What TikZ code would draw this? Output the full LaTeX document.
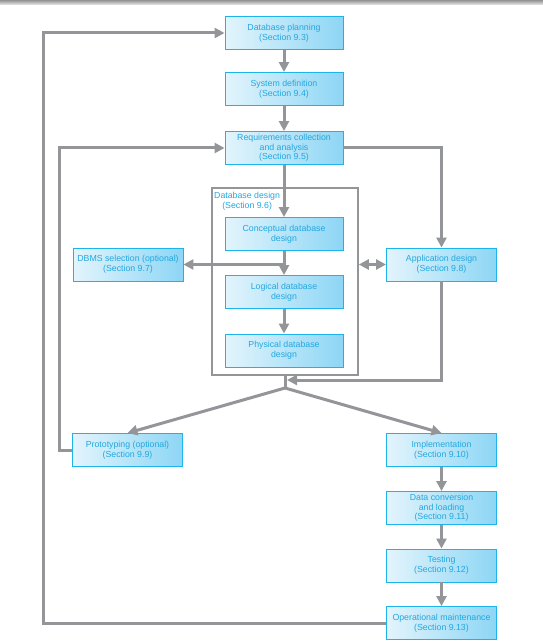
\documentclass[tikz,border=0pt]{standalone}
\usepackage{fontspec}
\setmainfont{Liberation Sans}
\usepackage{xcolor}
\usetikzlibrary{arrows.meta}
\definecolor{boxline}{HTML}{1CB4EA}
\definecolor{boxtext}{HTML}{22A8E0}
\definecolor{boxleft}{HTML}{E3F4FC}
\definecolor{boxright}{HTML}{8DD6F5}
\definecolor{flowgray}{HTML}{939598}

\begin{document}
\begin{tikzpicture}[x=1bp,y=-1bp,
	stage/.style={draw=boxline,line width=0.9bp,left color=boxleft,right color=boxright,text=boxtext,font=\fontsize{8.8}{9.6}\selectfont,align=center,inner sep=1bp,minimum height=33bp},
	wide/.style={stage,minimum width=118bp},
	side/.style={stage,minimum width=110bp},
	flow/.style={draw=flowgray,line width=3bp,-{Triangle[length=10bp,width=10bp]}},
	link/.style={draw=flowgray,line width=3bp}]
	\useasboundingbox (0,0) rectangle (543,642);
	\shade[top color=gray!85,bottom color=gray!15] (0,0) rectangle (543,5);

	\node[wide] (plan) at (284,33) {Database planning\\(Section 9.3)};
	\node[wide] (sysdef) at (284,89) {System definition\\(Section 9.4)};
	\node[wide] (req) at (284,148) {Requirements collection\\and analysis\\(Section 9.5)};

	\node[draw=flowgray,line width=1.6bp,minimum width=146bp,minimum height=187bp,inner sep=0pt] (dbd) at (285,281.5) {};
	\node[text=boxtext,font=\fontsize{8.8}{9.6}\selectfont,align=center,anchor=north west,inner sep=0pt] (dbdlabel) at (214,192) {Database design\\(Section 9.6)};
	\node[wide] (concept) at (284,234) {Conceptual database\\design};
	\node[wide] (logical) at (284,292) {Logical database\\design};
	\node[wide] (physical) at (284,350.5) {Physical database\\design};

	\node[side] (dbms) at (128,264.5) {DBMS selection (optional)\\(Section 9.7)};
	\node[side] (app) at (441.5,264.5) {Application design\\(Section 9.8)};

	\node[side] (proto) at (127.5,450) {Prototyping (optional)\\(Section 9.9)};
	\node[side] (impl) at (441.5,450) {Implementation\\(Section 9.10)};
	\node[side] (conv) at (441.5,508) {Data conversion\\and loading\\(Section 9.11)};
	\node[side] (test) at (441.5,565.5) {Testing\\(Section 9.12)};
	\node[side] (maint) at (441.5,623) {Operational maintenance\\(Section 9.13)};

	\coordinate (merge) at (287,380);
	\coordinate (fork) at (285,388);

	\draw[flow] (plan) -- (sysdef); \draw[flow] (sysdef) -- (req); \draw[flow] (req) -- (concept); \draw[flow] (concept) -- (logical); \draw[flow] (logical) -- (physical);
	\draw[flow] (concept.south |- dbms.east) -- (dbms.east);
	\draw[flow,{Triangle[length=10bp,width=10bp]}-{Triangle[length=10bp,width=10bp]}] (dbd.east |- app.west) -- (app.west);
	\draw[flow] (req.east) -| (app.north);
	\draw[flow] (app.south) |- (merge);
	\draw[link] (dbd.south) -- (fork);
	\draw[flow] (fork) -- (proto.north); \draw[flow] (fork) -- (impl.north);
	\draw[flow] (impl) -- (conv); \draw[flow] (conv) -- (test); \draw[flow] (test) -- (maint);
	\draw[flow] (proto.west) -- ++(-13,0) |- (req.west);
	\draw[flow] (maint.west) -- ++(-343,0) |- (plan.west);
\end{tikzpicture}
\end{document}
